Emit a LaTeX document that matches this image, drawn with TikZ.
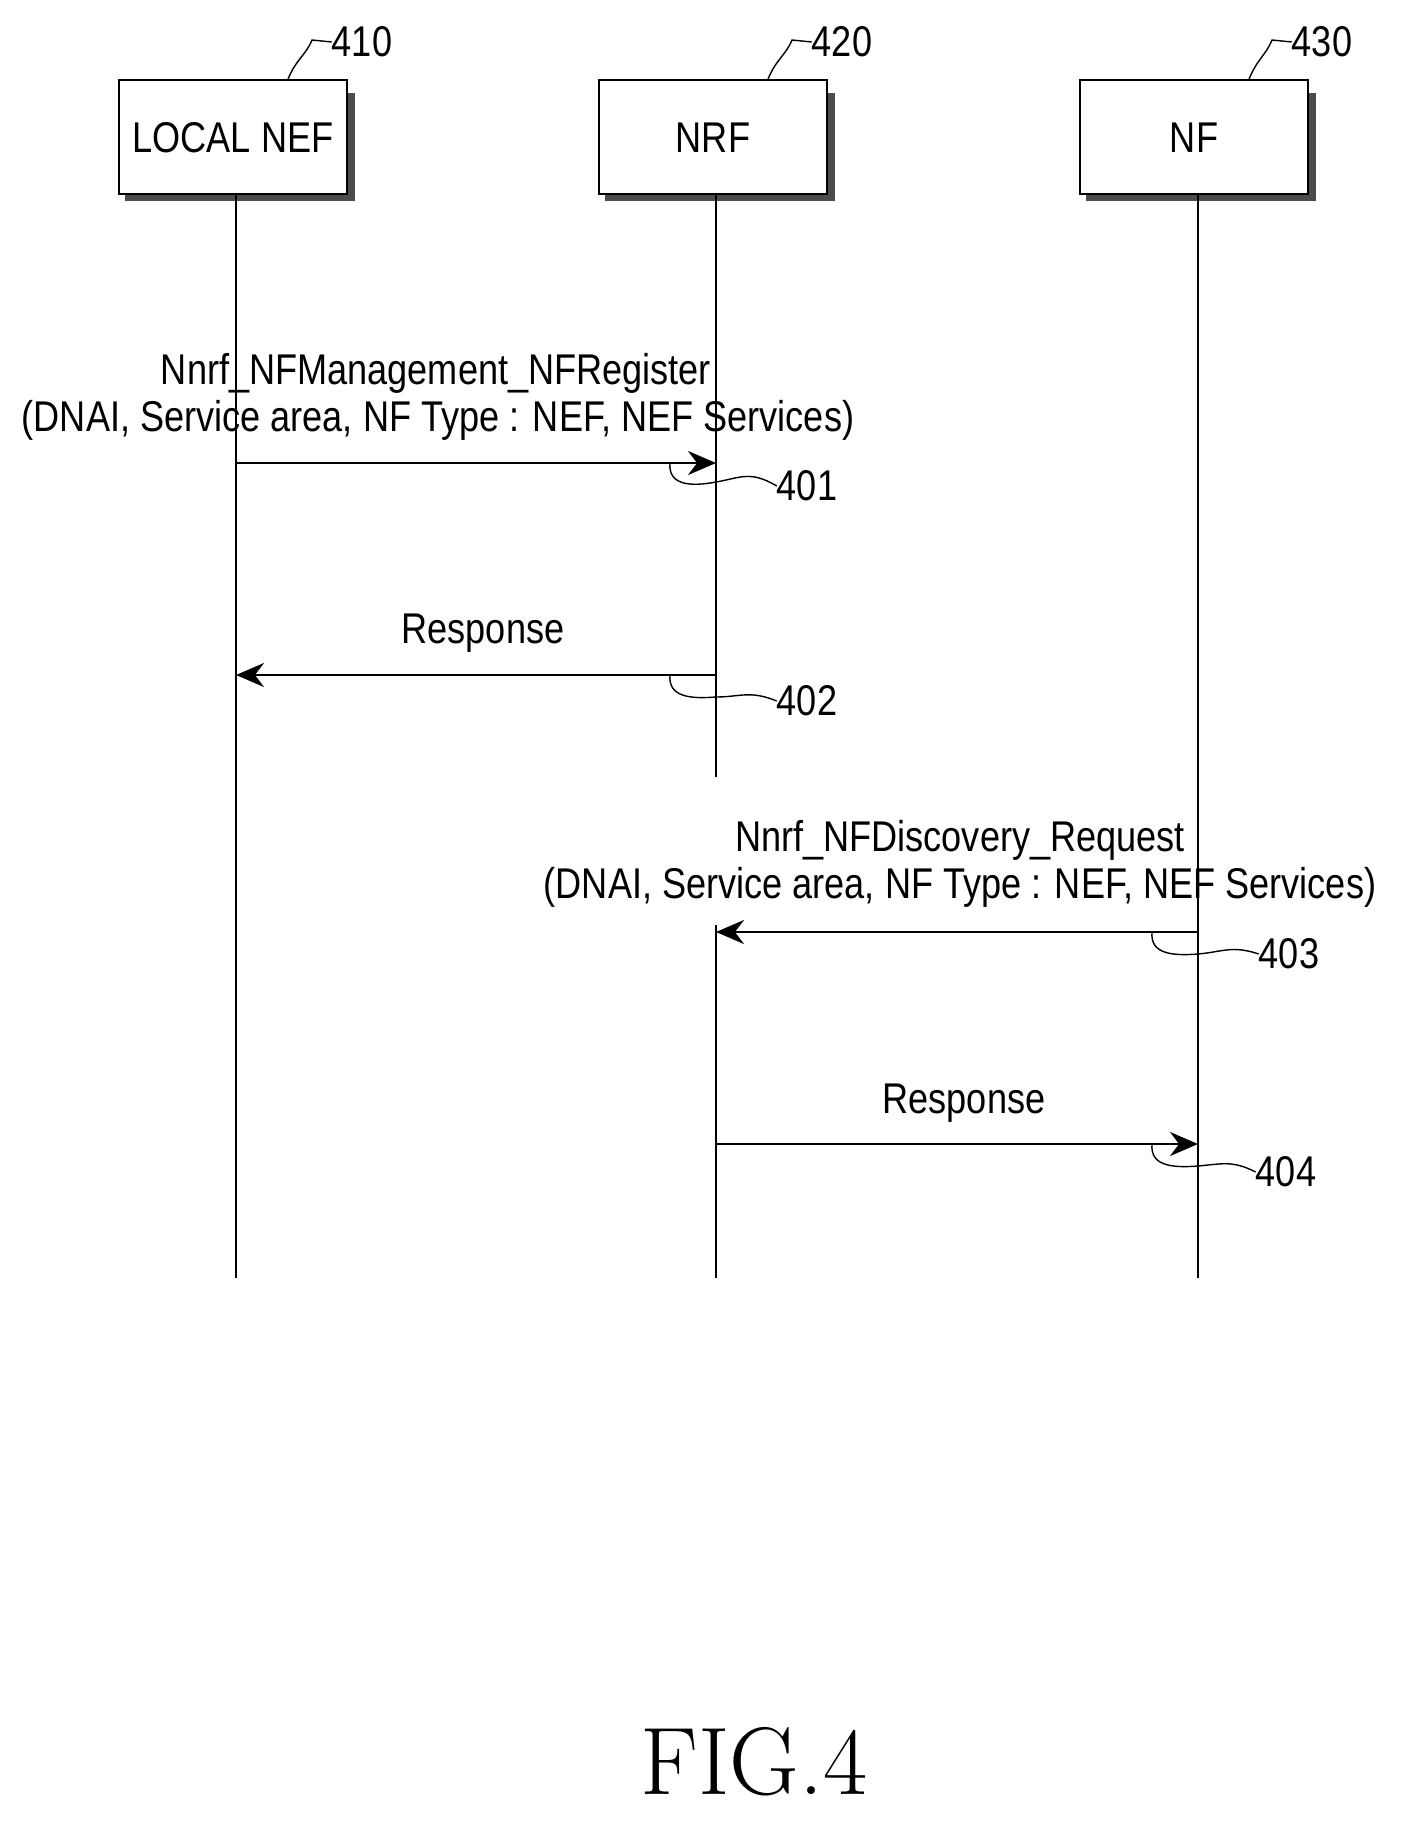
\documentclass[tikz,border=0pt]{standalone}
\usepackage{fontspec}
\setmainfont{Liberation Sans}
\usetikzlibrary{arrows.meta}
\begin{document}
\begin{tikzpicture}[x=1pt,y=-1pt,
  box/.style={draw,line width=1.5pt,minimum width=228pt,minimum height=114pt,fill=white},
  shadow/.style={fill=black!70},
  life/.style={line width=1.4pt},
  msg/.style={line width=2.6pt,-{Stealth[length=28pt,width=24pt]}},
  lbl/.style={font=\fontsize{43}{50}\selectfont,xscale=0.84,inner sep=0pt},
  lead/.style={line width=1.4pt}]
\useasboundingbox (0,0) rectangle (1402,1847);
% shadows and boxes
\foreach \n/\x/\t in {a/233/LOCAL NEF,b/713/NRF,c/1194/NF}{
  \fill[shadow] (\x-108,93) rectangle (\x+122,201);
  \node[box] (\n) at (\x,137) {};
  \node[lbl] (\n t) at (\x,138) {\t};
}
% lifelines
\coordinate (ae) at (236,1278);
\coordinate (b1) at (716,777);
\coordinate (b2) at (716,925);
\coordinate (be) at (716,1278);
\coordinate (ce) at (1198,1278);
\draw[life] (236,194) coordinate (as) -- (ae);
\draw[life] (716,194) coordinate (bs) -- (b1);
\draw[life] (b2) -- (be);
\draw[life] (1198,194) coordinate (cs) -- (ce);
% references
\node[lbl] (r410) at (362,42) {410};
\node[lbl] (r420) at (842,42) {420};
\node[lbl] (r430) at (1322,42) {430};
\draw[lead] (a.north)++(55,0) .. controls +(8,-20) and +(-6,15) .. (312,40) -- (r410.west);
\draw[lead] (b.north)++(55,0) .. controls +(8,-20) and +(-6,15) .. (792,40) -- (r420.west);
\draw[lead] (c.north)++(55,0) .. controls +(8,-20) and +(-6,15) .. (1272,40) -- (r430.west);
% messages
\coordinate (m1s) at (236,463); \coordinate (m1e) at (716,463);
\coordinate (m2s) at (716,675); \coordinate (m2e) at (236,675);
\coordinate (m3s) at (1198,932); \coordinate (m3e) at (716,932);
\coordinate (m4s) at (716,1144); \coordinate (m4e) at (1198,1144);
\draw[msg] (m1s) -- (m1e);
\draw[msg] (m2s) -- (m2e);
\draw[msg] (m3s) -- (m3e);
\draw[msg] (m4s) -- (m4e);
\node[lbl] (t1a) at (436,373) {Nnrf\_NFManagement\_NFRegister};
\node[lbl] (t1b) at (438,420) {(DNAI, Service area, NF Type : NEF, NEF Services)};
\node[lbl] (t2) at (483,633) {Response};
\node[lbl] (t3a) at (960,840) {Nnrf\_NFDiscovery\_Request};
\node[lbl] (t3b) at (960,887) {(DNAI, Service area, NF Type : NEF, NEF Services)};
\node[lbl] (t4) at (964,1103) {Response};
% step labels
\node[lbl] (s401) at (807,486) {401};
\node[lbl] (s402) at (807,701) {402};
\node[lbl] (s403) at (1289,954) {403};
\node[lbl] (s404) at (1286,1172) {404};
\draw[lead] (670,463) .. controls (668,485) and (690,487) .. (716,482) .. controls (740,478) and (750,470) .. (s401.west);
\draw[lead] (670,675) .. controls (668,697) and (690,699) .. (716,697) .. controls (740,697) and (750,690) .. (s402.west);
\draw[lead] (1152,932) .. controls (1150,954) and (1172,956) .. (1198,954) .. controls (1222,952) and (1232,945) .. (s403.west);
\draw[lead] (1152,1144) .. controls (1150,1166) and (1172,1168) .. (1198,1166) .. controls (1222,1164) and (1232,1160) .. (s404.west);
% figure caption
\node[font=\fontfamily{lmr}\fontsize{96}{100}\selectfont,inner sep=0pt] (fig) at (754,1762) {FIG.4};
\end{tikzpicture}
\end{document}
